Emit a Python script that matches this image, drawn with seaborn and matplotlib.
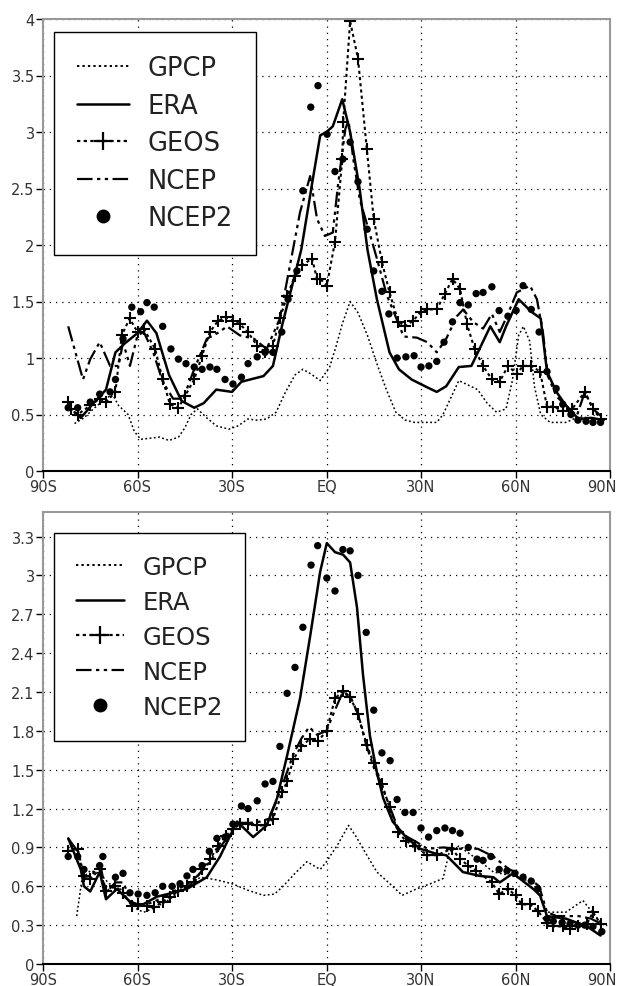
import numpy as np
import pandas as pd
import matplotlib
matplotlib.use("Agg")
import matplotlib.pyplot as plt
import matplotlib.transforms as mtrans
from matplotlib.lines import Line2D
import seaborn as sns

# --- top panel data (lat, value) ---
gpcp_top_lat = [-80, -77, -74, -71, -68, -66, -63, -61, -59, -56, -53, -50, -47, -45, -43, -41, -38, -35, -31, -28, -25, -22, -19, -16, -13, -10, -7.5, -5, -2, 1, 3, 5, 7.5, 10, 13, 16, 19, 22, 25, 28, 32, 35, 37, 39, 42, 45, 48, 51, 54, 57, 59, 61, 62.5, 64.5, 66, 68, 71, 76, 80, 84, 88]
gpcp_top = [0.42, 0.47, 0.55, 0.62, 0.68, 0.58, 0.5, 0.35, 0.28, 0.29, 0.3, 0.27, 0.3, 0.38, 0.5, 0.55, 0.47, 0.4, 0.37, 0.4, 0.46, 0.45, 0.46, 0.52, 0.7, 0.85, 0.9, 0.86, 0.8, 0.92, 1.1, 1.3, 1.5, 1.4, 1.2, 0.95, 0.72, 0.52, 0.45, 0.43, 0.43, 0.43, 0.5, 0.62, 0.8, 0.76, 0.72, 0.6, 0.52, 0.55, 0.8, 1.2, 1.28, 1.15, 0.75, 0.5, 0.43, 0.43, 0.48, 0.47, 0.45]

era_top_lat = [-80, -78, -74, -70, -67, -64, -60, -57, -54, -50, -46, -42, -39, -35, -30, -27, -20, -17, -14, -8, -4, -2, 0, 2, 5, 7.5, 10.5, 13, 16, 20, 23, 27, 32, 35, 38, 42, 46, 52, 55, 57, 61, 65, 68, 70, 73, 76, 80, 84, 88]
era_top = [0.52, 0.47, 0.6, 0.72, 1.05, 1.13, 1.22, 1.33, 1.22, 0.85, 0.62, 0.56, 0.6, 0.72, 0.7, 0.79, 0.84, 0.93, 1.3, 1.96, 2.64, 2.97, 3.0, 3.05, 3.29, 3.0, 2.5, 1.96, 1.52, 1.05, 0.9, 0.81, 0.74, 0.7, 0.75, 0.92, 0.93, 1.28, 1.14, 1.28, 1.52, 1.41, 1.35, 0.88, 0.7, 0.58, 0.46, 0.47, 0.45]

geos_top_lat = [-82, -81, -79, -75, -72, -70, -67, -65, -62.5, -60, -58, -54.4, -52, -49.7, -47, -45, -42, -39.5, -37, -34.4, -32, -29.7, -27.5, -25, -22, -19.5, -17, -14.8, -12.5, -10, -7.8, -4.6, -3, -2, 0.1, 2.7, 5, 5.3, 7.5, 10, 12.8, 15, 17.6, 20, 22.8, 25, 27.5, 30, 32, 35, 37.6, 40, 42.4, 44.6, 47, 49.7, 52.5, 55, 57.6, 60.4, 62.4, 65, 67.8, 70, 72, 75, 78, 82, 84.6, 87]
geos_top = [0.61, 0.55, 0.5, 0.58, 0.64, 0.61, 0.7, 1.2, 1.35, 1.23, 1.26, 1.08, 0.81, 0.59, 0.56, 0.66, 0.81, 1.02, 1.23, 1.33, 1.36, 1.33, 1.3, 1.23, 1.11, 1.05, 1.11, 1.35, 1.55, 1.73, 1.82, 1.88, 1.7, 1.7, 1.64, 2.03, 2.76, 3.09, 3.98, 3.65, 2.85, 2.23, 1.85, 1.58, 1.32, 1.28, 1.33, 1.41, 1.43, 1.43, 1.57, 1.7, 1.61, 1.3, 1.08, 0.93, 0.81, 0.79, 0.93, 0.86, 0.93, 0.93, 0.88, 0.57, 0.57, 0.53, 0.55, 0.7, 0.55, 0.46]

ncep_top_lat = [-82, -77.3, -75, -72, -68.7, -66, -64.6, -62.4, -60, -58, -55, -52, -48.7, -45.5, -42, -38, -34, -31.6, -27.5, -23, -19, -14.8, -11.6, -8.4, -5.2, -3, -0.5, 2, 3.6, 6, 7, 8.5, 10.6, 13, 16, 19.2, 20, 24.5, 28.7, 32, 35, 38, 41.4, 43.4, 46.5, 49.7, 52.5, 55, 57.3, 60.4, 64.6, 66.8, 68.7, 70.3, 73, 76, 79.5, 82, 84.6, 87]
ncep_top = [1.28, 0.81, 0.99, 1.14, 0.93, 0.93, 1.14, 0.93, 1.2, 1.23, 1.05, 0.79, 0.64, 0.64, 0.9, 1.17, 1.23, 1.28, 1.2, 1.17, 1.08, 1.35, 1.82, 2.29, 2.61, 2.23, 2.08, 2.11, 2.52, 3.03, 3.1, 2.76, 2.4, 2.17, 1.88, 1.55, 1.5, 1.19, 1.18, 1.14, 1.05, 1.17, 1.37, 1.43, 1.32, 1.26, 1.39, 1.23, 1.37, 1.58, 1.64, 1.52, 1.23, 0.84, 0.66, 0.58, 0.49, 0.7, 0.55, 0.49]

ncep2_top_lat = [-82, -79, -75, -72, -68.7, -67, -64.6, -61.8, -59, -57, -54.7, -52, -49.4, -47, -44.6, -42, -39.5, -37, -34.8, -32.2, -29.7, -27, -24.9, -22, -19.5, -17, -14.2, -12.2, -9.4, -7.5, -5, -2.7, 0.2, 2.7, 5.2, 7.5, 10, 12.9, 15, 17.6, 19.8, 22.4, 25.2, 27.8, 30, 32.5, 35, 37.3, 40, 42.4, 45, 47.5, 49.7, 52.5, 54.8, 57.6, 60.2, 62.4, 65, 67.5, 70, 72.9, 75, 77.6, 79.8, 82.4, 84.6, 87]
ncep2_top = [0.56, 0.56, 0.61, 0.68, 0.7, 0.81, 1.17, 1.45, 1.41, 1.49, 1.45, 1.28, 1.08, 0.99, 0.95, 0.92, 0.9, 0.92, 0.9, 0.81, 0.77, 0.83, 0.95, 1.01, 1.05, 1.05, 1.23, 1.52, 1.77, 2.48, 3.22, 3.41, 2.98, 2.65, 2.76, 2.91, 2.56, 2.14, 1.77, 1.59, 1.39, 1.0, 1.01, 1.02, 0.92, 0.93, 0.97, 1.14, 1.32, 1.49, 1.47, 1.57, 1.58, 1.63, 1.42, 1.37, 1.42, 1.64, 1.43, 1.23, 0.88, 0.73, 0.59, 0.5, 0.45, 0.44, 0.43, 0.43]

# --- bottom panel data ---
gpcp_bot_lat = [-79.3, -77.6, -75, -72, -69, -66, -63, -60, -58, -55, -51, -47, -43, -40, -35, -30, -25, -20, -16.5, -13.8, -10, -6.2, -2, 0, 3.5, 7, 9.5, 11.6, 16, 21, 24, 28.6, 33, 37, 39, 42, 47.8, 53, 59, 65.6, 70, 76, 81.4, 87]
gpcp_bot = [0.37, 0.66, 0.72, 0.7, 0.62, 0.6, 0.5, 0.42, 0.4, 0.43, 0.48, 0.55, 0.62, 0.67, 0.65, 0.62, 0.57, 0.53, 0.54, 0.6, 0.7, 0.79, 0.73, 0.79, 0.92, 1.07, 0.98, 0.89, 0.71, 0.6, 0.53, 0.58, 0.62, 0.66, 0.87, 0.91, 0.81, 0.71, 0.68, 0.63, 0.4, 0.4, 0.49, 0.32]

era_bot_lat = [-82, -78, -77, -75, -72, -70, -66.5, -62.4, -59, -53.8, -48.7, -44.3, -38, -33.8, -28.4, -23.3, -19, -15.7, -12.5, -8.4, -5.2, -2, 0.1, 2.7, 5.3, 7.5, 9.7, 11.6, 13.8, 16, 18, 21, 25.6, 29.7, 35, 38, 43.3, 48.7, 53, 55, 59.2, 65.6, 67.8, 70, 76, 82.7, 87]
era_bot = [0.97, 0.73, 0.6, 0.56, 0.71, 0.5, 0.58, 0.48, 0.45, 0.52, 0.55, 0.58, 0.67, 0.83, 1.1, 0.98, 1.07, 1.28, 1.61, 2.05, 2.53, 3.03, 3.25, 3.18, 3.16, 3.1, 2.75, 2.23, 1.76, 1.48, 1.28, 1.1, 0.97, 0.89, 0.85, 0.84, 0.71, 0.68, 0.67, 0.63, 0.7, 0.58, 0.53, 0.37, 0.35, 0.29, 0.22]

geos_bot_lat = [-82, -79, -77, -75, -72, -70, -67, -64.6, -61.8, -59.8, -57, -54.7, -52, -49.7, -47, -44.3, -42, -39.5, -37, -34.4, -32, -29.7, -27.5, -25, -22, -19.5, -17, -14, -12.5, -10.5, -8, -5.2, -2.7, 0, 2.7, 5.3, 7.5, 10, 12.8, 15, 17.6, 20, 22.7, 25.2, 28, 32, 35, 39.8, 42.4, 45, 47.6, 52.5, 54.8, 57.6, 60, 62, 64.6, 67.1, 70, 72, 75, 77.3, 79.8, 82.7, 84.6, 87]
geos_bot = [0.87, 0.89, 0.68, 0.66, 0.73, 0.56, 0.6, 0.55, 0.45, 0.46, 0.45, 0.44, 0.48, 0.52, 0.56, 0.6, 0.63, 0.73, 0.81, 0.91, 0.99, 1.04, 1.08, 1.08, 1.07, 1.07, 1.12, 1.33, 1.41, 1.58, 1.68, 1.74, 1.72, 1.8, 2.05, 2.11, 2.06, 1.93, 1.69, 1.55, 1.39, 1.21, 1.02, 0.95, 0.91, 0.84, 0.84, 0.89, 0.81, 0.76, 0.72, 0.63, 0.54, 0.58, 0.53, 0.46, 0.46, 0.41, 0.32, 0.29, 0.29, 0.27, 0.29, 0.31, 0.4, 0.31]

ncep_bot_lat = [-82, -79, -77, -75, -72, -70, -67, -64.5, -62, -59, -56, -53, -50, -47, -44, -41, -38, -35, -32, -29.5, -27, -24, -21, -18.5, -16, -13, -10.5, -8, -5.5, -3, 0, 2.5, 5, 7.5, 10, 12.5, 15, 17.5, 20, 22.5, 25, 28, 32, 37, 42, 48, 53, 58, 63.5, 67.5, 70, 73, 76, 80, 84, 88]
ncep_bot = [0.97, 0.87, 0.66, 0.66, 0.79, 0.55, 0.63, 0.63, 0.48, 0.45, 0.47, 0.5, 0.54, 0.58, 0.62, 0.68, 0.76, 0.86, 0.96, 1.05, 1.09, 1.09, 1.1, 1.12, 1.25, 1.45, 1.62, 1.74, 1.83, 1.77, 1.8, 1.95, 2.09, 2.07, 1.93, 1.7, 1.52, 1.38, 1.22, 1.06, 0.99, 0.95, 0.89, 0.9, 0.89, 0.89, 0.83, 0.73, 0.68, 0.6, 0.4, 0.37, 0.37, 0.37, 0.35, 0.3]

ncep2_bot_lat = [-82, -79, -77, -72, -71, -67, -64.6, -62.4, -59.8, -57, -54.4, -52, -49, -46.5, -44.3, -42.4, -39.5, -37.2, -34.8, -32.2, -29.7, -27, -24.9, -22, -19.5, -17, -14.8, -12.5, -10, -7.5, -4.9, -2.8, 0.1, 2.7, 5.2, 7.5, 10, 12.6, 15, 17.6, 20.2, 22.4, 24.9, 27.5, 30, 32.4, 35, 37.6, 40, 42.4, 45, 47.8, 49.7, 52.2, 54.8, 57.3, 59.8, 62.4, 65, 67.1, 70, 72, 74.8, 77.3, 79.8, 82, 84.6, 87.4]
ncep2_bot = [0.83, 0.83, 0.73, 0.76, 0.83, 0.67, 0.7, 0.55, 0.54, 0.53, 0.55, 0.6, 0.6, 0.62, 0.68, 0.73, 0.76, 0.87, 0.97, 0.98, 1.08, 1.22, 1.2, 1.26, 1.39, 1.41, 1.68, 2.09, 2.29, 2.6, 3.08, 3.23, 2.98, 2.88, 3.2, 3.19, 3.0, 2.56, 1.96, 1.63, 1.57, 1.27, 1.17, 1.17, 1.05, 0.98, 1.03, 1.05, 1.03, 1.01, 0.9, 0.81, 0.8, 0.83, 0.73, 0.72, 0.7, 0.67, 0.64, 0.58, 0.35, 0.33, 0.32, 0.31, 0.3, 0.3, 0.29, 0.25]

lat_ticks = [-90, -60, -30, 0, 30, 60, 90]
lat_labels = ["90S", "60S", "30S", "EQ", "30N", "60N", "90N"]
top_yticks = [0, 0.5, 1, 1.5, 2, 2.5, 3, 3.5, 4]
top_ylabels = ["0", "0.5", "1", "1.5", "2", "2.5", "3", "3.5", "4"]
bot_yticks = [0, 0.3, 0.6, 0.9, 1.2, 1.5, 1.8, 2.1, 2.4, 2.7, 3.0, 3.3]
bot_ylabels = ["0", "0.3", "0.6", "0.9", "1.2", "1.5", "1.8", "2.1", "2.4", "2.7", "3", "3.3"]

sns.set_style("white")
plt.rcParams['font.family'] = ['DejaVu Sans']

gpcp_ls = (0, (1.2, 1.6))
geos_ls = (0, (1.5, 1.5))
ncep_ls = (0, (7, 2, 1.5, 2, 1.5, 2))

fig = plt.figure(figsize=(6.21, 9.87), dpi=100)
ax_top = fig.add_axes([43 / 621, (987 - 472) / 987, 567 / 621, 452 / 987])
ax_bot = fig.add_axes([43 / 621, (987 - 965) / 987, 567 / 621, 452 / 987])


def draw_panel(ax, gp, er, ge, nc, n2, ylim, yticks, ylabels, leg_fs, leg_anchor, leg_space):
    sns.lineplot(x=gp[0], y=gp[1], ax=ax, color="black", linestyle=gpcp_ls, lw=1.1, sort=False)
    sns.lineplot(x=er[0], y=er[1], ax=ax, color="black", linestyle="-", lw=1.8, sort=False)
    sns.lineplot(x=nc[0], y=nc[1], ax=ax, color="black", linestyle=ncep_ls, lw=1.6, sort=False)
    sns.lineplot(x=ge[0], y=ge[1], ax=ax, color="black", linestyle=geos_ls, lw=1.5,
                 marker="+", markersize=8, markeredgewidth=1.5, markeredgecolor="black", sort=False)
    sns.scatterplot(x=n2[0], y=n2[1], ax=ax, color="black", s=28, edgecolor="none", zorder=5)

    ax.set_xlim(-90, 90)
    ax.set_ylim(*ylim)
    ax.set_xticks(lat_ticks)
    ax.set_xticklabels(lat_labels)
    ax.set_yticks(yticks)
    ax.set_yticklabels(ylabels)
    ax.set_xlabel("")
    ax.set_ylabel("")
    ax.grid(True, color="black", linestyle=(0, (1, 4)), lw=0.9)
    ax.tick_params(axis="both", direction="out", length=5, width=1, color="black",
                   labelsize=10.5, labelcolor="#333333", pad=1, left=True, bottom=True)
    # keep the last (90N) label inside the figure edge
    last = ax.get_xticklabels()[-1]
    last.set_transform(last.get_transform() + mtrans.ScaledTranslation(-6 / 72, 0, fig.dpi_scale_trans))
    for side in ["left", "top", "right"]:
        ax.spines[side].set_color("#999999")
        ax.spines[side].set_linewidth(1.5)
    ax.spines["bottom"].set_color("black")
    ax.spines["bottom"].set_linewidth(1.5)

    handles = [
        Line2D([], [], color="black", linestyle=gpcp_ls, lw=1.4),
        Line2D([], [], color="black", linestyle="-", lw=1.8),
        Line2D([], [], color="black", linestyle=geos_ls, lw=1.6, marker="+", markersize=13, markeredgewidth=1.6),
        Line2D([], [], color="black", linestyle=ncep_ls, lw=1.6),
        Line2D([], [], color="black", linestyle="none", marker="o", markersize=9),
    ]
    labels = ["GPCP", "ERA", "GEOS", "NCEP", "NCEP2"]
    leg = ax.legend(handles, labels, loc="upper left", bbox_to_anchor=leg_anchor,
                    borderaxespad=0, fontsize=leg_fs, frameon=True, fancybox=False,
                    edgecolor="black", framealpha=1, handlelength=2.0, handletextpad=0.75,
                    labelspacing=leg_space, borderpad=0.9, numpoints=1)
    leg.get_frame().set_linewidth(1.0)
    for t in leg.get_texts():
        t.set_color("#222222")


draw_panel(ax_top, (gpcp_top_lat, gpcp_top), (era_top_lat, era_top), (geos_top_lat, geos_top),
           (ncep_top_lat, ncep_top), (ncep2_top_lat, ncep2_top), (0, 4), top_yticks, top_ylabels,
           18.5, (11 / 567, (472 - 33) / 452), 0.45)
draw_panel(ax_bot, (gpcp_bot_lat, gpcp_bot), (era_bot_lat, era_bot), (geos_bot_lat, geos_bot),
           (ncep_bot_lat, ncep_bot), (ncep2_bot_lat, ncep2_bot), (0, 3.49), bot_yticks, bot_ylabels,
           17.5, (11 / 567, (965 - 534) / 452), 0.45)

fig.savefig("out.png", dpi=100)
